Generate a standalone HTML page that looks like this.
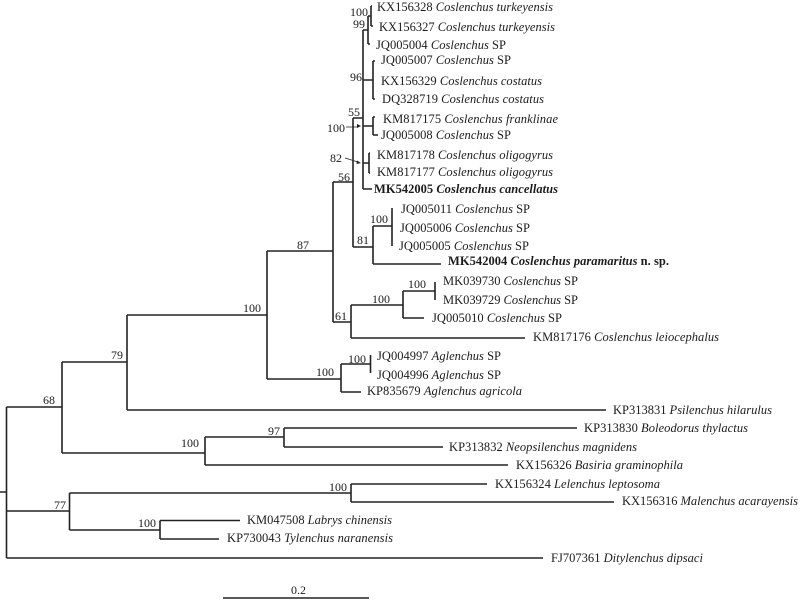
<!DOCTYPE html>
<html><head><meta charset="utf-8"><style>
html,body{margin:0;padding:0;background:#fff;width:800px;height:600px;overflow:hidden}
svg{display:block;filter:blur(.3px)}
text{font-family:"Liberation Serif",serif;font-size:12px;fill:#1c1c1c}
.l{font-size:12.5px}
.b{font-weight:bold}
.i{font-style:italic}
path{fill:none;stroke:#222;stroke-width:1.6}
</style></head><body>
<svg width="800" height="600" viewBox="0 0 800 600" xmlns="http://www.w3.org/2000/svg">
<path d="M0 492H6.5M6.5 407V558M6.5 407H62M62 362V453M62 362H127M127 315V410M127 315H267M267 251V379M267 251H333M333 182V322M333 182H353M353 118V247M353 118H363M363 30V189M363 30H368M368 16V44M368 16H371M371 6V26M371 6H372M371 26H373M368 44H370M363 80H373M373 61V99M373 61H375M373 99H375M363 126H373M373 117V135M373 135H378M373 117H375M363 163H369M369 153V173M369 153H370M369 173H370M363 189H372"/>
<path d="M353 247H373M373 226V264M373 226H392M392 208V246M373 264H441M333 322H351M351 305V338M351 305H403M403 291V318M403 291H435M435 282V300M403 318H424M351 338H525"/>
<path d="M267 379H341M341 364V392M341 364H370M370.5 355V373M341 392H361M127 410H606M62 453H205M205 437V465M205 437H284M284 428V447M284 428H577M284 447H443M205 465H508"/>
<path d="M6.5 511H69.5M69.5 493V530M69.5 493H351M351 484V502M351 484H487M351 502H614M69.5 530H160M160 520.5V539M160 520.5H240M160 539H219M6.5 558H543M223 598H369"/>
<path d="M346 127H358M345 158L358 162" style="stroke-width:.8"/>
<path d="M361 126L357 124V128ZM361 163L357 160.500L356.500 164Z" style="fill:#222;stroke:none"/>

<text x="350" y="16">100</text><text x="353" y="28">99</text><text x="350" y="81">96</text><text x="348" y="116">55</text><text x="327" y="132">100</text><text x="330" y="162">82</text><text x="338" y="181">56</text><text x="370" y="223">100</text><text x="357" y="244">81</text><text x="297" y="249">87</text><text x="408" y="288">100</text><text x="372" y="303">100</text><text x="335" y="320">61</text><text x="348" y="363">100</text><text x="316" y="376">100</text><text x="243" y="312">100</text><text x="111" y="359">79</text><text x="43" y="404">68</text><text x="181" y="447">100</text><text x="268" y="435">97</text><text x="329" y="491">100</text><text x="54" y="509">77</text><text x="138" y="527">100</text>
<text x="291" y="594">0.2</text>

<text class="l" x="377" y="11" textLength="176">KX156328 <tspan class="i">Coslenchus turkeyensis</tspan></text>
<text class="l" x="379" y="31" textLength="176">KX156327 <tspan class="i">Coslenchus turkeyensis</tspan></text>
<text class="l" x="376" y="49" textLength="130">JQ005004 <tspan class="i">Coslenchus</tspan> SP</text>
<text class="l" x="381" y="64" textLength="130">JQ005007 <tspan class="i">Coslenchus</tspan> SP</text>
<text class="l" x="381" y="85" textLength="161">KX156329 <tspan class="i">Coslenchus costatus</tspan></text>
<text class="l" x="382" y="103" textLength="162">DQ328719 <tspan class="i">Coslenchus costatus</tspan></text>
<text class="l" x="383" y="123" textLength="175">KM817175 <tspan class="i">Coslenchus franklinae</tspan></text>
<text class="l" x="381" y="139" textLength="130">JQ005008 <tspan class="i">Coslenchus</tspan> SP</text>
<text class="l" x="377" y="159" textLength="176">KM817178 <tspan class="i">Coslenchus oligogyrus</tspan></text>
<text class="l" x="377" y="176" textLength="176">KM817177 <tspan class="i">Coslenchus oligogyrus</tspan></text>
<text class="l b" x="374" y="193" textLength="184">MK542005 <tspan class="i">Coslenchus cancellatus</tspan></text>
<text class="l" x="401" y="213" textLength="129">JQ005011 <tspan class="i">Coslenchus</tspan> SP</text>
<text class="l" x="400" y="232" textLength="130">JQ005006 <tspan class="i">Coslenchus</tspan> SP</text>
<text class="l" x="399" y="250" textLength="130">JQ005005 <tspan class="i">Coslenchus</tspan> SP</text>
<text class="l b" x="448" y="265" textLength="221">MK542004 <tspan class="i">Coslenchus paramaritus</tspan> n. sp.</text>
<text class="l" x="443" y="285" textLength="135">MK039730 <tspan class="i">Coslenchus</tspan> SP</text>
<text class="l" x="443" y="304" textLength="135">MK039729 <tspan class="i">Coslenchus</tspan> SP</text>
<text class="l" x="432" y="322" textLength="130">JQ005010 <tspan class="i">Coslenchus</tspan> SP</text>
<text class="l" x="533" y="341" textLength="186">KM817176 <tspan class="i">Coslenchus leiocephalus</tspan></text>
<text class="l" x="377" y="360" textLength="124">JQ004997 <tspan class="i">Aglenchus</tspan> SP</text>
<text class="l" x="377" y="379" textLength="124">JQ004996 <tspan class="i">Aglenchus</tspan> SP</text>
<text class="l" x="367" y="395" textLength="155">KP835679 <tspan class="i">Aglenchus agricola</tspan></text>
<text class="l" x="613" y="414" textLength="159">KP313831 <tspan class="i">Psilenchus hilarulus</tspan></text>
<text class="l" x="584" y="432" textLength="164">KP313830 <tspan class="i">Boleodorus thylactus</tspan></text>
<text class="l" x="449" y="451" textLength="188">KP313832 <tspan class="i">Neopsilenchus magnidens</tspan></text>
<text class="l" x="516" y="469" textLength="167">KX156326 <tspan class="i">Basiria graminophila</tspan></text>
<text class="l" x="495" y="488" textLength="165">KX156324 <tspan class="i">Lelenchus leptosoma</tspan></text>
<text class="l" x="622" y="505" textLength="176">KX156316 <tspan class="i">Malenchus acarayensis</tspan></text>
<text class="l" x="247" y="524" textLength="145">KM047508 <tspan class="i">Labrys chinensis</tspan></text>
<text class="l" x="227" y="542" textLength="166">KP730043 <tspan class="i">Tylenchus naranensis</tspan></text>
<text class="l" x="551" y="562" textLength="152">FJ707361 <tspan class="i">Ditylenchus dipsaci</tspan></text>
</svg>
</body></html>
